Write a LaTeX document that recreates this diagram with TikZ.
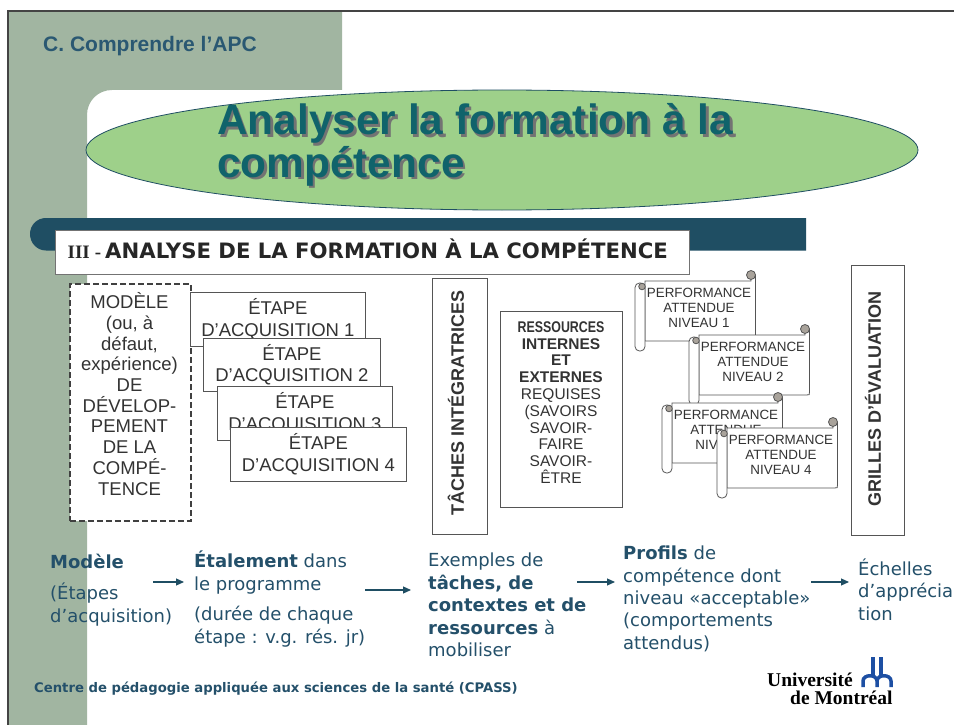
\documentclass[tikz,border=0pt]{standalone}
\usepackage{fontspec}
\usepackage{graphicx}
\setmainfont{Liberation Sans}
\newfontfamily\verdfont{DejaVu Sans}
\newfontfamily\serffont{Liberation Serif}
\usetikzlibrary{arrows.meta}
\definecolor{sage}{HTML}{A1B5A1}
\definecolor{navyteal}{HTML}{1F4E63}
\definecolor{bodyteal}{HTML}{24506A}
\definecolor{secteal}{HTML}{2A5872}
\definecolor{ovalgreen}{HTML}{9ED08A}
\definecolor{titleteal}{HTML}{10636B}
\definecolor{linegray}{HTML}{555555}
\definecolor{txtgray}{HTML}{333333}
\definecolor{curlgray}{HTML}{A9A39B}
\definecolor{umblue}{HTML}{1D4FA3}
\definecolor{framegray}{HTML}{444444}
\newcommand\fs[2]{\fontsize{#1}{#2}\selectfont}
\newcommand\shadowed[1]{\makebox[0pt][l]{\hspace{2.5pt}\raisebox{-2.5pt}{\color{black!55}#1}}#1}
\newcommand\perfscroll[3]{%
 \begin{scope}[shift={(#1,#2)}]
  \draw[scrollline, fill=white] (0,0) -- (106,0) -- (106,-6) -- (110.5,-6) -- (110.5,57) .. controls (110.5,60) .. (107.5,60) -- (0,60) -- cycle;
  \draw[scrollline, fill=white, rounded corners=4.5pt] (-10,2) rectangle (0,70);
  \draw[scrollline, fill=curlgray] (-3,5.5) circle[radius=3.3];
  \draw[scrollline, fill=curlgray] (106,-6) circle[radius=4.5];
  \node[scrolltext] (perf#3) at (54,27) {PERFORMANCE\\ATTENDUE\\NIVEAU #3};
 \end{scope}}
\begin{document}
\begin{tikzpicture}[x=1pt,y=-1pt,
  scrollline/.style={draw=linegray, line width=0.8pt},
  scrolltext/.style={align=center, text=txtgray, font=\fs{13.4}{15}, inner sep=0pt},
  etapebox/.style={draw=linegray, line width=0.8pt, fill=white, anchor=north west, inner sep=0pt, align=center, text=txtgray, font=\fs{18.5}{21.5}},
  plainbox/.style={draw=linegray, line width=0.8pt, fill=white, anchor=north west, inner sep=0pt},
  flowtext/.style={anchor=base west, align=left, inner sep=0pt, text=bodyteal, font=\verdfont\fs{18}{22.4}},
  flowarrow/.style={-{Triangle[length=8pt,width=7pt]}, draw=navyteal, line width=1.1pt},
  titletext/.style={anchor=base west, inner sep=0pt, text=titleteal, font=\bfseries\fs{42.4}{42}},
]
\useasboundingbox (0,0) rectangle (954,725);
\fill[white] (0,0) rectangle (954,725);
% side band
\fill[sage] (8,12) -- (342,12) -- (342,90) -- (112,90) .. controls (98,90) and (87,101) .. (87,115) -- (87,725) -- (8,725) -- cycle;
\draw[framegray, line width=2pt] (8,725) -- (8,11) -- (954,11);
\node[anchor=base west, inner sep=0pt, text=secteal, font=\bfseries\fs{21}{21}] (sect) at (43,51.5) {C. Comprendre l’APC};
% title oval
\draw[fill=ovalgreen, draw=navyteal, line width=0.8pt] (502,150) ellipse [x radius=416, y radius=60];
\node[titletext] (t1) at (217,135) {\shadowed{Analyser la formation à la}};
\node[titletext] (t2) at (217,177) {\shadowed{compétence}};
% header bar
\fill[navyteal] (46,218) -- (806,218) -- (806,250.5) -- (46,250.5) .. controls (37,250.5) and (30,243) .. (30,234) .. controls (30,225) and (37,218) .. (46,218) -- cycle;
\node[draw=black!55, line width=0.8pt, fill=white, anchor=north west, inner sep=0pt, minimum width=634pt, minimum height=44pt] (hdr) at (55,230) {};
\node[anchor=base west, inner sep=0pt, text=black!85] (hdrtxt) at (67.5,258) {{\serffont\bfseries\fs{19}{19}III\hspace{5pt}-}\hspace{4pt}{\verdfont\bfseries\fs{21.2}{21}ANALYSE DE LA FORMATION À LA COMPÉTENCE}};
% model box
\node[draw=black!75, dash pattern=on 6pt off 3pt, line width=1.8pt, fill=white, minimum width=121pt, minimum height=237pt, anchor=north west, inner sep=0pt] (model) at (69,283) {};
\node[align=center, text=txtgray, font=\fs{18.5}{20.7}, inner sep=0pt] (modeltxt) at (129.5,394) {MODÈLE\\(ou, à\\défaut,\\expérience)\\DE\\DÉVELOP-\\PEMENT\\DE LA\\COMPÉ-\\TENCE};
% etape boxes
\node[etapebox, minimum width=175pt, minimum height=54pt] (e1) at (190,292) {ÉTAPE\\D’ACQUISITION 1};
\node[etapebox, minimum width=177pt, minimum height=53pt] (e2) at (203,338) {ÉTAPE\\D’ACQUISITION 2};
\node[etapebox, minimum width=175pt, minimum height=54pt] (e3) at (217,386) {ÉTAPE\\D’ACQUISITION 3};
\node[etapebox, minimum width=176pt, minimum height=54pt] (e4) at (230,427) {ÉTAPE\\D’ACQUISITION 4};
% taches
\node[plainbox, minimum width=55pt, minimum height=256pt] (taches) at (432,278) {};
\node[rotate=90, inner sep=0pt, text=txtgray, font=\bfseries\fs{18}{18}] (tachestxt) at (456,403) {TÂCHES INTÉGRATRICES};
% ressources
\node[plainbox, minimum width=122pt, minimum height=196pt] (ress) at (500,311) {};
\node[align=center, inner sep=0pt, text=txtgray, font=\fs{15.5}{16.8}] (resstxt) at (561,402.5) {{\bfseries\scalebox{0.8}[1]{RESSOURCES}}\\\textbf{INTERNES}\\\textbf{ET}\\\textbf{EXTERNES}\\REQUISES\\(SAVOIRS\\SAVOIR-\\FAIRE\\SAVOIR-\\ÊTRE};
% scrolls
\perfscroll{645}{281}{1}
\perfscroll{699}{335}{2}
\perfscroll{672}{403}{3}
\perfscroll{727}{428}{4}
% grilles
\node[plainbox, minimum width=53pt, minimum height=270pt] (grilles) at (851,265) {};
\node[rotate=90, inner sep=0pt, text=txtgray, font=\bfseries\fs{18}{18}] (grillestxt) at (873,399) {GRILLES D’ÉVALUATION};
% bottom flow (base anchor = baseline of last line)
\node[flowtext] (modele) at (50,568) {\textbf{Modèle}};
\node[flowtext] (etapes) at (50,622) {(Étapes\\d’acquisition)};
\node[flowtext] (etal) at (194,590) {\textbf{Étalement} dans\\le programme};
\node[flowtext] (duree) at (194,643) {(durée de chaque\\étape : v.g. rés. jr)};
\node[flowtext] (exemples) at (428,656.5) {Exemples de\\\textbf{tâches, de}\\\textbf{contextes et de}\\\textbf{ressources} à\\mobiliser};
\node[flowtext] (profils) at (623,649.3) {\textbf{Profils} de\\compétence dont\\niveau «acceptable»\\(comportements\\attendus)};
\node[flowtext] (echelles) at (858,620) {Échelles\\d’apprécia\\tion};
\coordinate (a1s) at (153,582); \coordinate (a1e) at (184,582);
\coordinate (a2s) at (365,590); \coordinate (a2e) at (411,590);
\coordinate (a3s) at (577,582); \coordinate (a3e) at (615,582);
\coordinate (a4s) at (811,582); \coordinate (a4e) at (849,582);
\draw[flowarrow] (a1s) -- (a1e);
\draw[flowarrow] (a2s) -- (a2e);
\draw[flowarrow] (a3s) -- (a3e);
\draw[flowarrow] (a4s) -- (a4e);
% footer
\node[anchor=base west, inner sep=0pt, text=bodyteal, font=\verdfont\bfseries\fs{13.2}{13.2}] (footer) at (34,692) {Centre de pédagogie appliquée aux sciences de la santé (CPASS)};
\node[anchor=base west, inner sep=0pt, text=black, font=\serffont\bfseries\fs{19.5}{19.5}] (univ) at (767,686) {Université};
\node[anchor=base west, inner sep=0pt, text=black, font=\serffont\bfseries\fs{19.5}{19.5}] (montreal) at (790,704) {de Montréal};
% logo mark
\draw[umblue, line width=3.5pt] (873,657) -- (873,676);
\draw[umblue, line width=3.5pt] (881,657) -- (881,676);
\draw[umblue, line width=3.5pt] (863,687) -- (863,681) .. controls (863,674) and (877,674) .. (877,681) -- (877,687);
\draw[umblue, line width=3.5pt] (877,681) .. controls (877,674) and (891,674) .. (891,681) -- (891,687);
\end{tikzpicture}
\end{document}
